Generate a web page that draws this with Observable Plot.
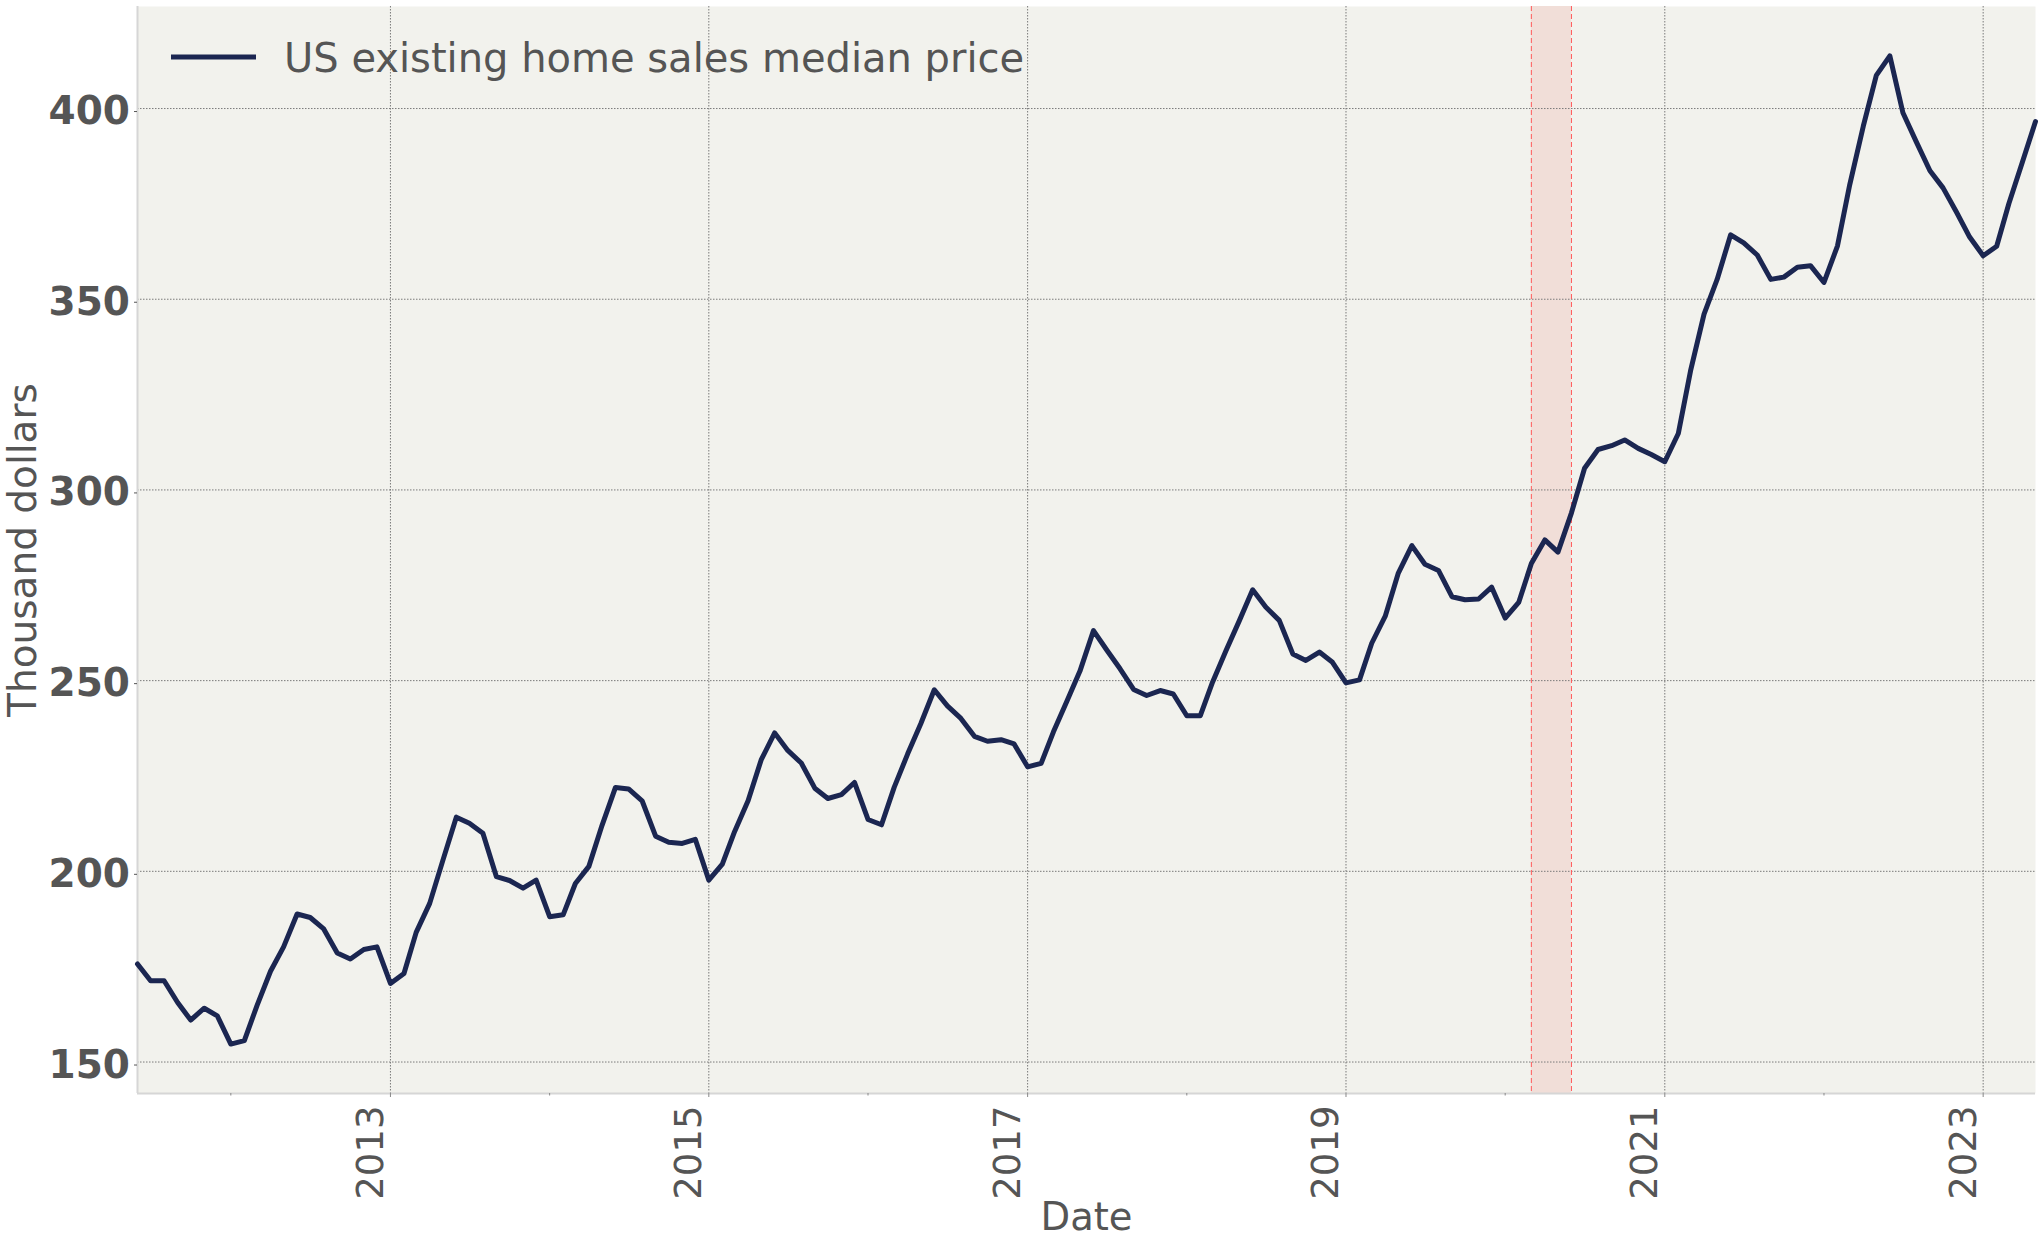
<!DOCTYPE html>
<html>
<head>
<meta charset="utf-8">
<script src="https://cdn.jsdelivr.net/npm/d3@7"></script>
<script src="https://cdn.jsdelivr.net/npm/@observablehq/plot@0.6"></script>
<style>
  html, body { margin: 0; padding: 0; background: #ffffff; }
  #chart { width: 2041px; height: 1243px; }
</style>
</head>
<body>
<div id="chart"></div>
<script>
// ---- Data ----
const firstMonth = "2011-06-01";
const lastMonth = "2023-05-01";

// Monthly US existing home sales median price, thousand dollars (2011-06 .. 2023-05)
const medianPrice = [
  175.7, 171.3, 171.3, 165.6, 161.0, 164.1, 162.1,                                    // 2011 Jun-Dec
  154.7, 155.6, 164.8, 173.8, 180.2, 188.8, 187.9, 184.9, 178.6, 177.0, 179.5, 180.2, // 2012
  170.6, 173.2, 184.0, 191.6, 202.8, 214.2, 212.6, 210.0, 198.6, 197.6, 195.6, 197.7, // 2013
  188.1, 188.6, 196.8, 201.3, 212.0, 222.0, 221.6, 218.5, 209.2, 207.6, 207.3, 208.4, // 2014
  197.7, 201.9, 210.4, 218.5, 229.2, 236.3, 231.7, 228.4, 221.8, 219.1, 220.1, 223.3, // 2015
  213.6, 212.2, 222.0, 230.8, 238.7, 247.6, 243.4, 240.1, 235.4, 234.1, 234.5, 233.4, // 2016
  227.4, 228.3, 236.5, 244.6, 252.5, 263.1, 258.1, 253.1, 247.7, 246.1, 247.4, 246.5, // 2017
  240.8, 240.8, 249.6, 257.9, 265.6, 273.8, 269.3, 265.8, 257.0, 255.3, 257.5, 254.8, // 2018
  249.4, 250.2, 259.8, 266.9, 278.2, 285.4, 280.5, 278.9, 272.0, 271.2, 271.4, 274.5, // 2019
  266.4, 270.5, 280.7, 286.9, 283.7, 294.0, 305.7, 310.6, 311.6, 313.1, 310.9, 309.3, // 2020
  307.4, 314.8, 331.2, 346.1, 355.2, 366.9, 364.8, 361.6, 355.2, 355.8, 358.4, 358.8, // 2021
  354.4, 364.0, 380.0, 395.3, 408.7, 413.8, 398.9, 391.2, 383.7, 379.2, 372.8, 366.3, // 2022
  361.4, 363.9, 375.1, 386.0, 396.6                                                   // 2023 Jan-May
];

const yTicks = [150, 200, 250, 300, 350, 400];
const labeledYears = ["2013", "2015", "2017", "2019", "2021", "2023"];
const minorYears = ["2012", "2014", "2016", "2018", "2020", "2022"];
const recessionStart = "2020-03-01";
const recessionEnd = "2020-06-01";
const seriesName = "US existing home sales median price";
const xTitle = "Date";
const yTitle = "Thousand dollars";

// ---- Build table ----
const months = d3.utcMonth.range(new Date(firstMonth), d3.utcMonth.offset(new Date(lastMonth), 1));
const data = months.map((date, i) => ({date, price: medianPrice[i]}));
const [lo, hi] = d3.extent(medianPrice);
const pad = (hi - lo) * 0.05;
const yDomain = [lo - pad, hi + pad];
const xDomain = [new Date(firstMonth), new Date(lastMonth)];

const textColor = "#555555";
const lineColor = "#1b2651";
const gridStyle = {stroke: "#7a7a7a", strokeOpacity: 1, strokeWidth: 1, strokeDasharray: "1.5,1.5"};

const legend = (index, scales, values, dimensions) => {
  const g = d3.create("svg:g");
  const x0 = dimensions.marginLeft;
  const y0 = dimensions.marginTop;
  g.append("line")
    .attr("x1", x0 + 34).attr("x2", x0 + 119)
    .attr("y1", y0 + 51).attr("y2", y0 + 51)
    .attr("stroke", lineColor).attr("stroke-width", 5);
  g.append("text")
    .attr("x", x0 + 147).attr("y", y0 + 65.7)
    .attr("text-anchor", "start")
    .style("text-anchor", "start")
    .attr("font-size", 40)
    .attr("fill", textColor)
    .text(seriesName);
  return g.node();
};

const chart = Plot.plot({
  width: 2041,
  height: 1243,
  marginLeft: 137,
  marginRight: 6,
  marginTop: 6,
  marginBottom: 150,
  style: {fontFamily: "'DejaVu Sans', sans-serif", background: "#ffffff", overflow: "visible"},
  x: {type: "utc", domain: xDomain, label: null},
  y: {domain: yDomain, label: null},
  marks: [
    Plot.frame({fill: "#f2f2ed", stroke: "none"}),
    Plot.rect([{s: recessionStart, e: recessionEnd}], {
      x1: d => new Date(d.s), x2: d => new Date(d.e), fill: "#f1ded8"
    }),
    Plot.gridY(yTicks, gridStyle),
    Plot.gridX(labeledYears.map(y => new Date(y)), gridStyle),
    Plot.ruleX([recessionStart, recessionEnd].map(d => new Date(d)), {
      stroke: "#ff5a5a", strokeWidth: 1, strokeDasharray: "5,3"
    }),
    Plot.ruleX([xDomain[0]], {stroke: "#d6d6d6", strokeWidth: 2}),
    Plot.ruleY([yDomain[0]], {stroke: "#d6d6d6", strokeWidth: 2}),
    Plot.axisY(yTicks, {
      tickSize: 3, tickPadding: 4.5, fontSize: 39, fontWeight: "bold",
      color: textColor, dy: 3
    }),
    Plot.axisX(minorYears.map(y => new Date(y)), {tickSize: 2.5, text: null, stroke: "#888"}),
    Plot.axisX(labeledYears.map(y => new Date(y)), {tickSize: 4, text: null, stroke: "#888"}),
    Plot.text(labeledYears, {
      x: d => new Date(d), text: d => d, frameAnchor: "bottom",
      rotate: -90, textAnchor: "end", lineAnchor: "bottom",
      dx: -7.6, dy: 12, fontSize: 37, fill: textColor
    }),
    Plot.text([yTitle], {
      text: d => d, frameAnchor: "left", rotate: -90, textAnchor: "middle",
      lineAnchor: "bottom", dx: -101.5, fontSize: 39, fill: textColor
    }),
    Plot.text([xTitle], {
      text: d => d, frameAnchor: "bottom", textAnchor: "middle",
      lineAnchor: "bottom", dy: 136.3, fontSize: 38.5, fill: textColor
    }),
    Plot.lineY(data, {x: "date", y: "price", stroke: lineColor, strokeWidth: 5}),
    legend
  ]
});

document.getElementById("chart").appendChild(chart);
</script>
</body>
</html>
